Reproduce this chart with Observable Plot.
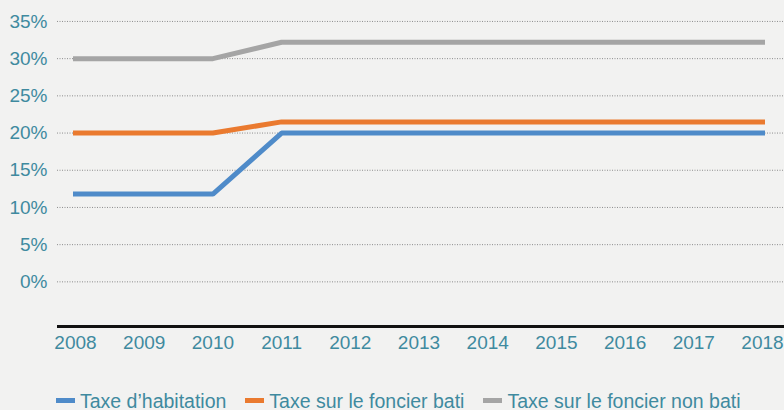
<!DOCTYPE html>
<html>
<head>
<meta charset="utf-8">
<script src="https://cdn.jsdelivr.net/npm/d3@7"></script>
<script src="https://cdn.jsdelivr.net/npm/@observablehq/plot@0.6"></script>
<style>
  html, body { margin: 0; padding: 0; background: #f2f2f1; }
  body { width: 784px; height: 410px; overflow: hidden; font-family: "Liberation Sans", Arial, sans-serif; }
  #legend { display: flex; align-items: center; padding-left: 56px; margin-top: 31.5px; height: 18px; color: #3f8a9f; font-size: 19.5px; line-height: 18px; }
  .item { display: flex; align-items: center; margin-right: 19px; }
  .sw { width: 19px; height: 5px; margin-right: 5px; }
</style>
</head>
<body>
<div id="chart"></div>
<div id="legend"></div>
<script>
const years = [2008, 2009, 2010, 2011, 2012, 2013, 2014, 2015, 2016, 2017, 2018];
const seriesNames = ["Taxe d\u2019habitation", "Taxe sur le foncier bati", "Taxe sur le foncier non bati"];
const habitation = [11.8, 11.8, 11.8, 20.0, 20.0, 20.0, 20.0, 20.0, 20.0, 20.0, 20.0];
const foncierBati = [20.0, 20.0, 20.0, 21.5, 21.5, 21.5, 21.5, 21.5, 21.5, 21.5, 21.5];
const foncierNonBati = [30.0, 30.0, 30.0, 32.2, 32.2, 32.2, 32.2, 32.2, 32.2, 32.2, 32.2];
const colors = ["#4f8bc9", "#ea7a2f", "#a5a5a5"];
const yTicks = [0, 5, 10, 15, 20, 25, 30, 35];

const allSeries = [habitation, foncierBati, foncierNonBati];
const data = [];
allSeries.forEach((vals, i) => vals.forEach((v, j) => data.push({year: years[j], value: v, series: seriesNames[i]})));

const chart = Plot.plot({
  width: 784,
  height: 360,
  marginLeft: 57,
  marginRight: 0,
  marginTop: 13.5,
  marginBottom: 34,
  style: {background: "#f2f2f1", color: "#3f8a9f", fontSize: "19px", fontFamily: "\"Liberation Sans\", Arial, sans-serif"},
  x: {type: "linear", domain: [2008, 2018], insetLeft: 18, insetRight: 22, label: null},
  y: {domain: [-6, 36], label: null},
  color: {domain: seriesNames, range: colors},
  marks: [
    Plot.ruleY(yTicks, {stroke: "#8c8c8c", strokeWidth: 1, strokeDasharray: "1,1.5", strokeOpacity: 1}),
    Plot.ruleY([-6], {stroke: "#111", strokeWidth: 3}),
    Plot.axisY({ticks: yTicks, tickSize: 0, tickPadding: 10, tickFormat: d => d + "%", fontSize: "19px", label: null}),
    Plot.axisX({ticks: years, tickSize: 0, tickPadding: 9, tickFormat: d => String(d), fontSize: "19px", label: null}),
    Plot.line(data, {x: "year", y: "value", z: "series", stroke: "series", strokeWidth: 5, strokeLinecap: "square", strokeLinejoin: "miter"})
  ]
});
document.getElementById("chart").appendChild(chart);

const legend = document.getElementById("legend");
seriesNames.forEach((name, i) => {
  const item = document.createElement("div");
  item.className = "item";
  const sw = document.createElement("span");
  sw.className = "sw";
  sw.style.background = colors[i];
  const label = document.createElement("span");
  label.textContent = name;
  item.appendChild(sw);
  item.appendChild(label);
  legend.appendChild(item);
});
</script>
</body>
</html>
